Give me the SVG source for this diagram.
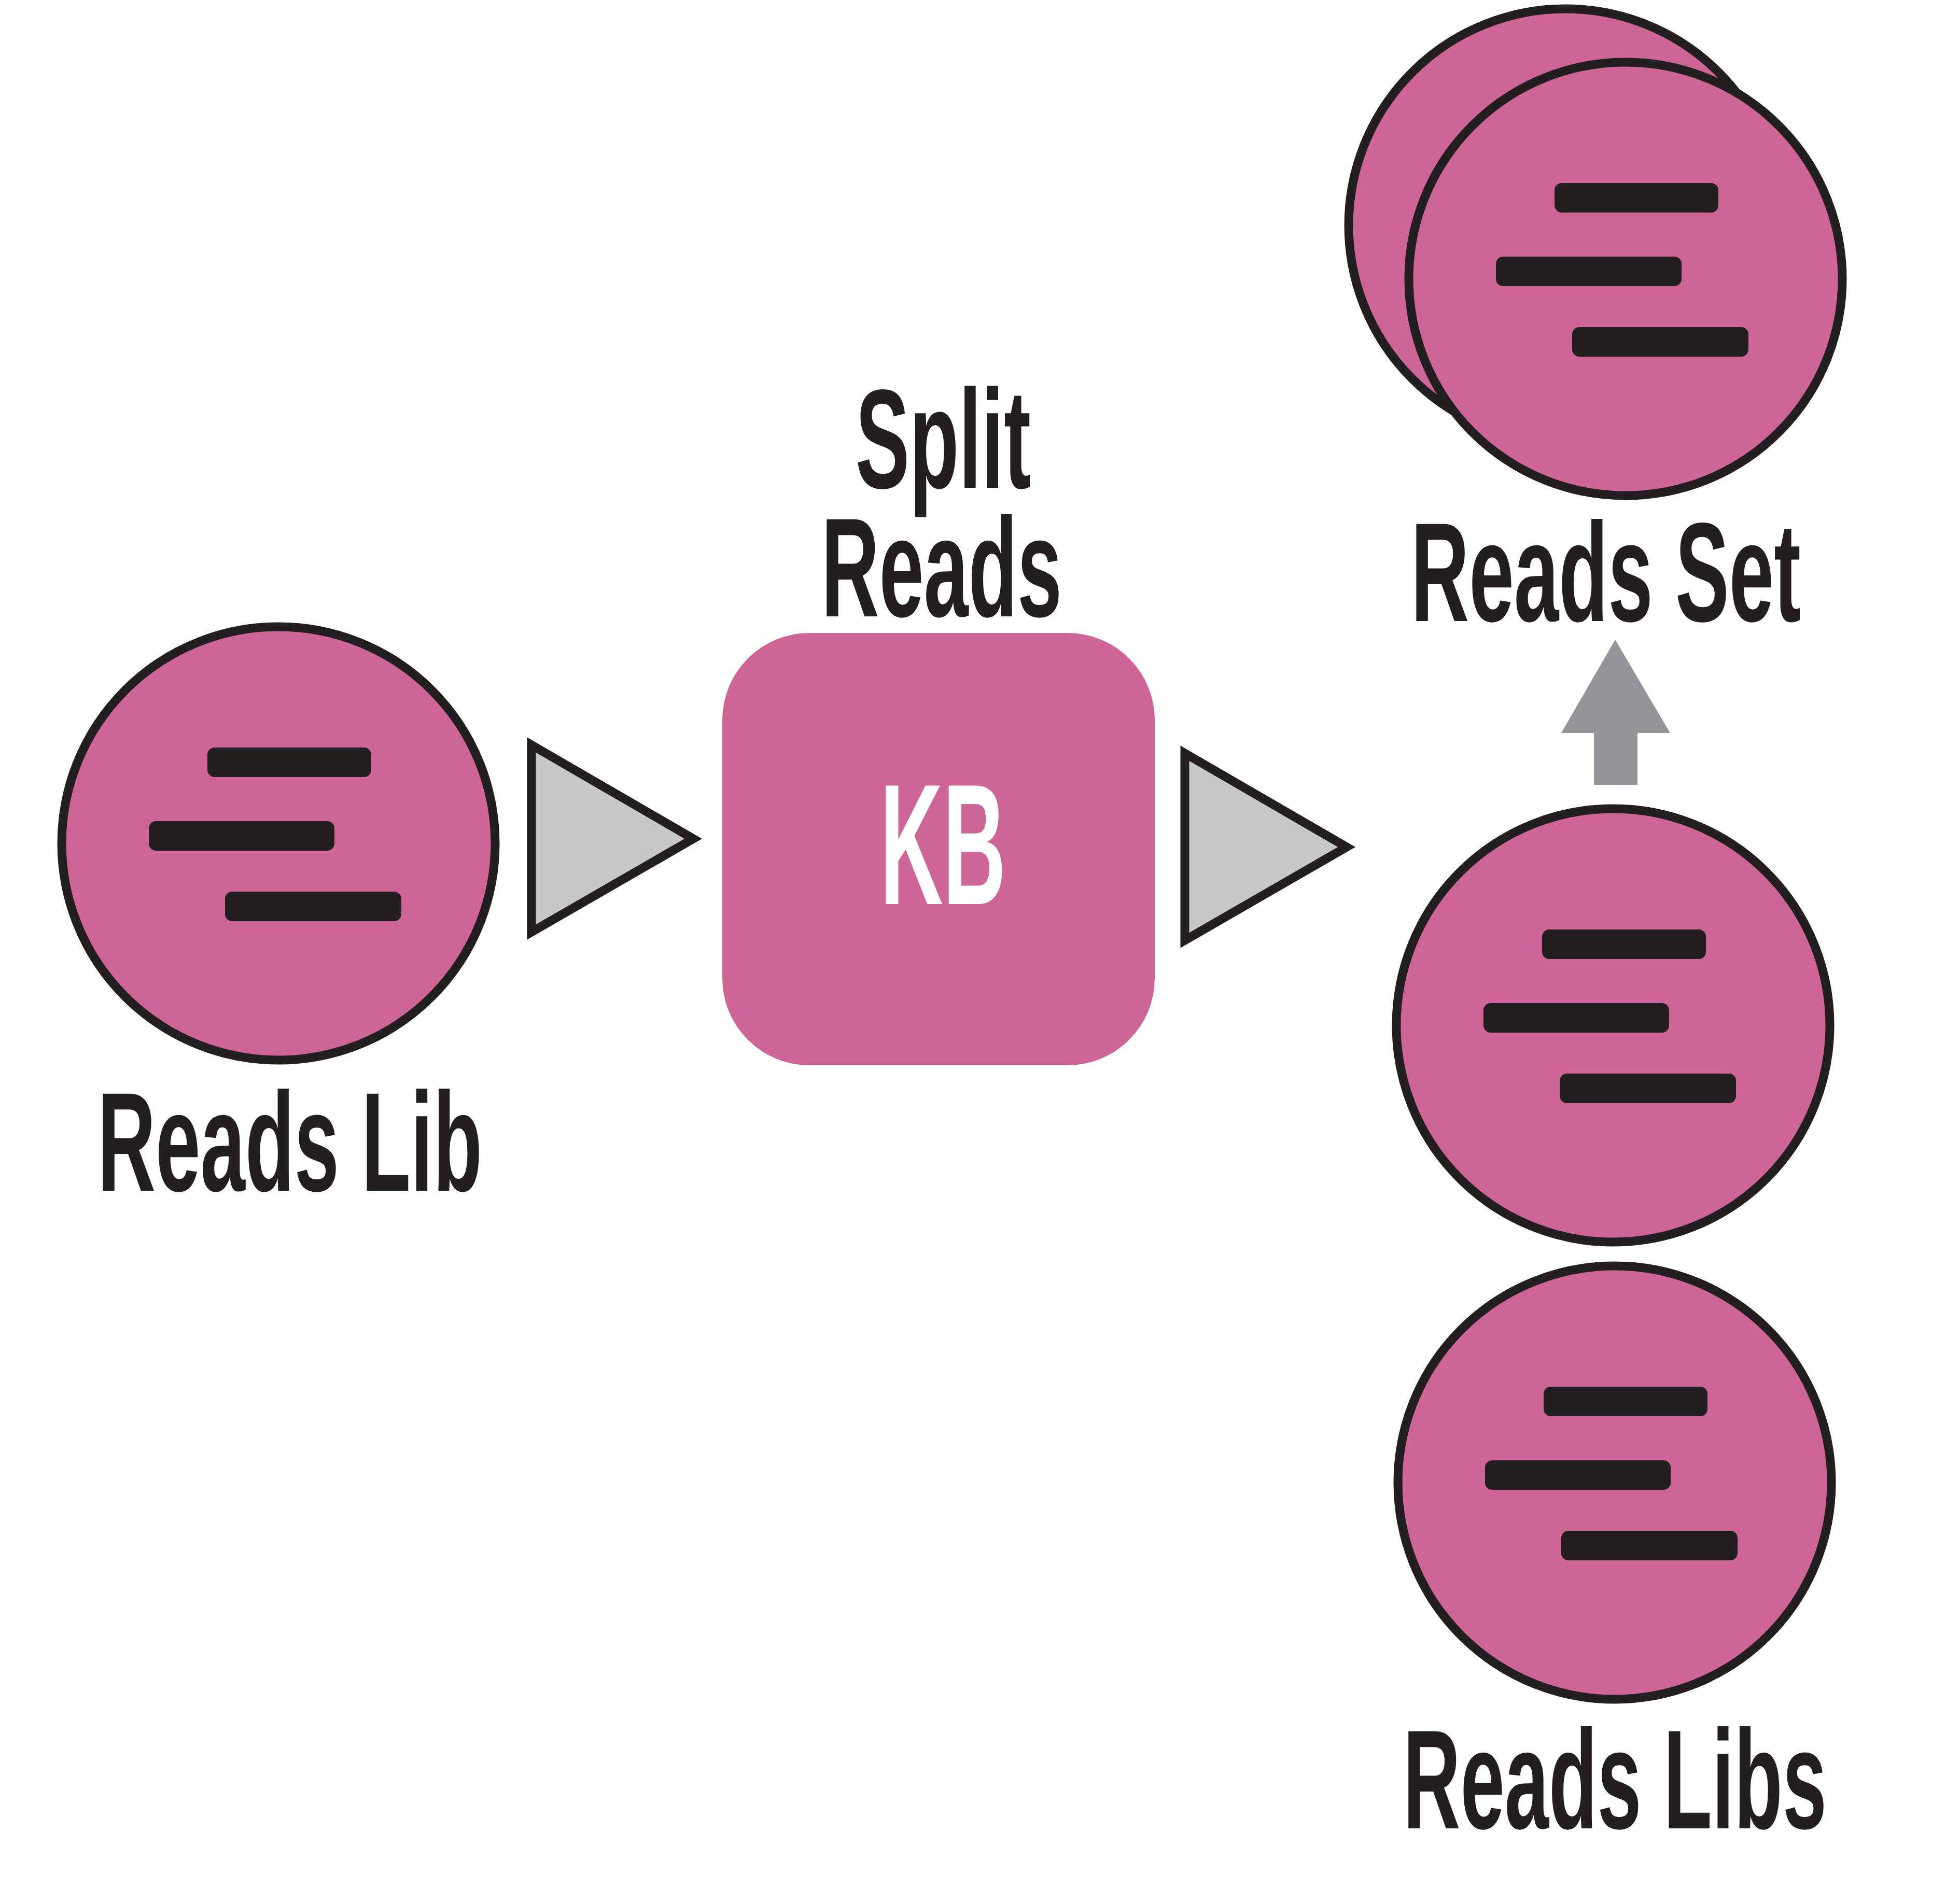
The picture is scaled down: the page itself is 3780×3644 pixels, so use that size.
<svg xmlns="http://www.w3.org/2000/svg" width="3780" height="3644" viewBox="0 0 3780 3644">
<style>
.disc{fill:#CD6596;stroke:#231F20;stroke-width:17}
.bar{fill:#231F20}
.lbl{font-family:"Liberation Sans",Arial,sans-serif;font-weight:700;font-size:272px;fill:#231F20}
.tri{fill:#C7C8CA;stroke:#231F20;stroke-width:17;stroke-miterlimit:10}
</style>
<defs>
<g id="reads">
<circle class="disc" cx="0" cy="0" r="418"/>
<rect class="bar" x="-137" y="-185" width="316" height="57" rx="14"/>
<rect class="bar" x="-250" y="-43" width="358" height="57" rx="14"/>
<rect class="bar" x="-103" y="93" width="340" height="57" rx="14"/>
</g>
</defs>
<rect width="3780" height="3644" fill="#fff"/>
<g id="connectors">
<polygon class="tri" points="1025,1437 1337,1618 1025,1798"/>
<polygon class="tri" points="2285,1453 2597,1634 2285,1814"/>
<polygon points="3115,1234 3221,1414 3158,1414 3158,1514 3074,1514 3074,1414 3011,1414" fill="#939598"/>
</g>
<g id="reads-lib">
<use href="#reads" x="537" y="1627"/>
<text class="lbl" x="188" y="2297" textLength="742" lengthAdjust="spacingAndGlyphs">Reads Lib</text>
</g>
<g id="split-reads">
<rect x="1393" y="1221" width="834" height="834" rx="168" fill="#CD6596"/>
<text class="lbl" x="1650" y="941" textLength="338" lengthAdjust="spacingAndGlyphs">Split</text>
<text class="lbl" x="1584" y="1189" textLength="464" lengthAdjust="spacingAndGlyphs">Reads</text>
<text x="1697" y="1744" textLength="243" lengthAdjust="spacingAndGlyphs" font-family="'Liberation Sans',Arial,sans-serif" font-weight="700" font-size="332" fill="#fff">KB</text>
</g>
<g id="reads-set">
<circle class="disc" cx="3019" cy="435" r="418"/>
<use href="#reads" x="3135" y="538"/>
<text class="lbl" x="2721" y="1198" textLength="752" lengthAdjust="spacingAndGlyphs">Reads Set</text>
</g>
<g id="reads-lib-upper">
<use href="#reads" x="3111" y="1978"/>
</g>
<g id="reads-libs">
<use href="#reads" x="3114" y="2860"/>
<text class="lbl" x="2706" y="3527" textLength="817" lengthAdjust="spacingAndGlyphs">Reads Libs</text>
</g>
</svg>
